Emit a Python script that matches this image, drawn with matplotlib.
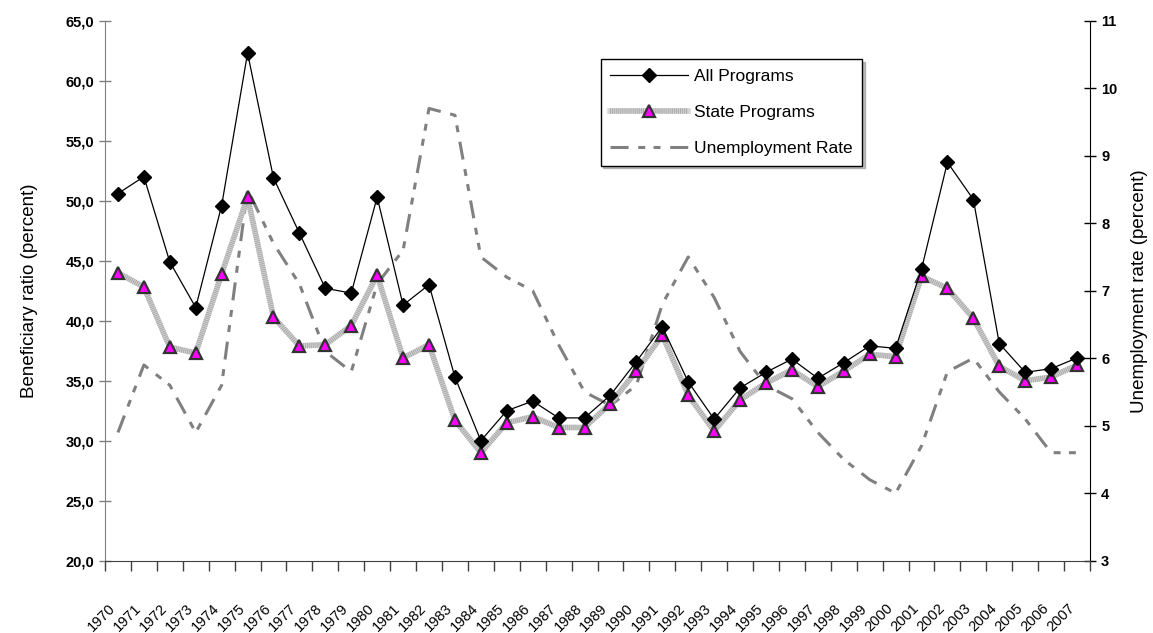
import matplotlib
matplotlib.use("Agg")
import matplotlib.pyplot as plt
from matplotlib.lines import Line2D
from matplotlib.ticker import FuncFormatter, FixedLocator

plt.rcParams['font.family'] = ['Liberation Sans', 'DejaVu Sans']
plt.rcParams['lines.scale_dashes'] = False

years = [str(y) for y in range(1970, 2008)]

all_programs = [50.6, 52.0, 44.9, 41.1, 49.6, 62.3, 51.9, 47.3, 42.7, 42.3,
                50.3, 41.3, 43.0, 35.3, 30.0, 32.5, 33.3, 31.9, 31.9, 33.8,
                36.6, 39.5, 34.9, 31.8, 34.4, 35.7, 36.8, 35.2, 36.5, 37.9,
                37.7, 44.3, 53.2, 50.1, 38.1, 35.7, 36.0, 36.9]

state_programs = [44.0, 42.8, 37.8, 37.3, 43.9, 50.3, 40.3, 37.9, 38.0, 39.6,
                  43.8, 36.9, 38.0, 31.7, 29.0, 31.5, 32.0, 31.1, 31.1, 33.1,
                  35.8, 38.8, 33.8, 30.8, 33.4, 34.8, 35.9, 34.5, 35.8, 37.2,
                  37.0, 43.7, 42.7, 40.2, 36.2, 35.0, 35.3, 36.3]

unemployment = [4.9, 5.9, 5.6, 4.9, 5.6, 8.5, 7.7, 7.1, 6.1, 5.8,
                7.1, 7.6, 9.7, 9.6, 7.5, 7.2, 7.0, 6.2, 5.5, 5.3,
                5.6, 6.8, 7.5, 6.9, 6.1, 5.6, 5.4, 4.9, 4.5, 4.2,
                4.0, 4.7, 5.8, 6.0, 5.5, 5.1, 4.6, 4.6]

x = list(range(len(years)))

fig = plt.figure(figsize=(11.53, 6.33), dpi=100)
ax = fig.add_axes([105 / 1153, 1 - 560.7 / 633, 985 / 1153, 540 / 633])
ax2 = ax.twinx()
ax.set_zorder(ax2.get_zorder() + 1)
ax.patch.set_visible(False)

# unemployment (right axis)
unemp_dash = (0, (13, 7, 5, 6, 5, 7))
ax2.plot(x, unemployment, color='#808080', lw=2.2, linestyle=unemp_dash,
         dash_capstyle='butt', solid_joinstyle='round')

# state programs: textured light gray line
ax.plot(x, state_programs, color='#D4D4D4', lw=4, zorder=2, solid_capstyle='butt')
ax.plot(x, state_programs, color='#A8A8A8', lw=4, zorder=2,
        linestyle=(0, (0.7, 0.7)), dash_capstyle='butt')
ax.plot(x, state_programs, linestyle='none', marker='^', ms=9,
        markerfacecolor='#FF00FF', markeredgecolor='#333333', mew=1.6, zorder=3)

# all programs
ax.plot(x, all_programs, color='black', lw=0.9, marker='D', ms=7,
        markerfacecolor='black', markeredgecolor='black', zorder=4)

ax.set_xlim(-0.5, len(years) - 0.5)
ax.set_ylim(20, 65)
ax2.set_ylim(3, 11)
ax.set_yticks(range(20, 66, 5))
ax.yaxis.set_major_formatter(FuncFormatter(lambda v, p: f"{v:.1f}".replace('.', ',')))
ax2.set_yticks(range(3, 12))

# category axis: tick marks at boundaries, labels at centres
ax.xaxis.set_major_locator(FixedLocator([i - 0.5 for i in range(len(years) + 1)]))
ax.xaxis.set_minor_locator(FixedLocator(x))
ax.set_xticklabels([], minor=False)
ax.set_xticklabels(years, minor=True, rotation=45, ha='right', va='top',
                   fontsize=10.5, rotation_mode='default')
ax.tick_params(axis='x', which='major', direction='out', length=7, width=1, color='#404040')
ax.tick_params(axis='x', which='minor', length=0, pad=29)

ax.tick_params(axis='y', direction='inout', length=8, width=1, color='#808080')
ax2.tick_params(axis='y', direction='inout', length=9, width=1, color='black')
for lab in ax.get_yticklabels():
    lab.set_fontweight('bold')
    lab.set_fontsize(10.5)
for lab in ax2.get_yticklabels():
    lab.set_fontweight('bold')
    lab.set_fontsize(10.5)

for a in (ax, ax2):
    a.spines['top'].set_visible(False)
ax.spines['left'].set_color('#808080')
ax.spines['bottom'].set_color('#404040')
ax.spines['right'].set_visible(False)
ax2.spines['left'].set_visible(False)
ax2.spines['bottom'].set_visible(False)
ax2.spines['right'].set_color('black')

ax.set_ylabel('Beneficiary ratio (percent)', fontsize=13.5, labelpad=20)
ax2.set_ylabel('Unemployment rate (percent)', fontsize=13.5, labelpad=10)

handles = [
    Line2D([], [], color='black', lw=0.9, marker='D', ms=7, markerfacecolor='black'),
    (Line2D([], [], color='#D4D4D4', lw=4),
     Line2D([], [], color='#A8A8A8', lw=4, linestyle=(0, (0.7, 0.7))),
     Line2D([], [], linestyle='none', marker='^', ms=9, markerfacecolor='#FF00FF',
            markeredgecolor='#333333', mew=1.6)),
    Line2D([], [], color='#808080', lw=2.2, linestyle=unemp_dash),
]
labels = ['All Programs', 'State Programs', 'Unemployment Rate']
leg = ax.legend(handles, labels, loc='upper left',
                bbox_to_anchor=(600.7 / 1153, 1 - 59.3 / 633),
                bbox_transform=fig.transFigure, fontsize=12.5, borderaxespad=0,
                handlelength=4.5, handletextpad=0.3, labelspacing=1.2,
                borderpad=0.55, fancybox=False, framealpha=1,
                edgecolor='black', shadow={'color': '#808080'})
leg.get_frame().set_linewidth(1.0)

fig.savefig('out.png', dpi=100)
